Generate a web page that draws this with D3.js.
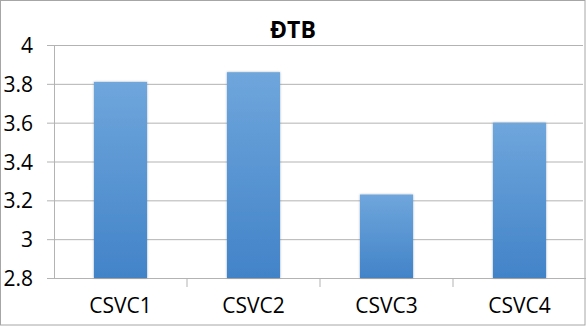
<!DOCTYPE html>
<html><head><meta charset="utf-8">
<script src="https://cdn.jsdelivr.net/npm/d3@7"></script>
<style>body{margin:0;background:#fff}svg{display:block}</style>
</head><body>
<svg id="c" width="586" height="326"></svg>
<script>
const title = "ĐTB";
const categories = ["CSVC1","CSVC2","CSVC3","CSVC4"];
const values = [3.81, 3.86, 3.23, 3.60];
const yTicks = [2.8, 3, 3.2, 3.4, 3.6, 3.8, 4];

const svg = d3.select("#c");
const m = {left:54, top:45};
const x = d3.scaleBand().domain(categories).range([m.left, 586]).paddingInner(0.6).paddingOuter(0.3);
const y = d3.scaleLinear().domain([2.8, 4]).range([278, 45]);

const defs = svg.append("defs");
const g = defs.append("linearGradient").attr("id","bg").attr("x1",0).attr("y1",0).attr("x2",0).attr("y2",1);
g.append("stop").attr("offset","0%").attr("stop-color","#6fa6dc");
g.append("stop").attr("offset","100%").attr("stop-color","#4283c8");
const f = defs.append("filter").attr("id","sh").attr("x","-20%").attr("y","-5%").attr("width","140%").attr("height","110%");
f.append("feDropShadow").attr("dx",0).attr("dy",0).attr("stdDeviation",1.2).attr("flood-color","#000").attr("flood-opacity",0.3);

svg.append("rect").attr("x",0.5).attr("y",0.5).attr("width",584.5).attr("height",324.5)
  .attr("fill","#fff").attr("stroke","#a6a6a6").attr("stroke-width",1);

const yAxis = d3.axisLeft(y).tickValues(yTicks).tickSize(7).tickSizeOuter(0)
  .tickFormat(d => d3.format("")(+d.toFixed(1)));
const ya = svg.append("g").attr("transform",`translate(${m.left},0)`).call(yAxis);
ya.select(".domain").attr("stroke","#b3b3b3");
ya.selectAll(".tick line").attr("stroke","#b3b3b3");
ya.selectAll(".tick text").attr("x",-21).attr("dy","0.36em").attr("font-family","Open Sans").attr("font-size","21px").attr("fill","#000");
ya.selectAll(".tick").append("line").attr("x1",0).attr("x2",583-m.left).attr("stroke","#b3b3b3");

const xAxis = d3.axisBottom(x).tickSize(0).tickSizeOuter(0);
const xa = svg.append("g").attr("transform","translate(0,278)").call(xAxis);
xa.select(".domain").attr("stroke","#b3b3b3");
xa.selectAll(".tick text").attr("y",20).attr("font-family","Open Sans").attr("font-size","21px").attr("fill","#000");
const step = x.step();
const bounds = categories.slice(1).map(c => x(c) - (step - x.bandwidth())/2);
xa.selectAll("line.bt2").data(bounds).join("line").attr("class","bt2")
  .attr("x1",d=>d).attr("x2",d=>d).attr("y1",0).attr("y2",9).attr("stroke","#b3b3b3");

svg.append("g").selectAll("rect").data(categories).join("rect")
  .attr("x",d=>x(d)).attr("width",x.bandwidth())
  .attr("y",(d,i)=>y(values[i])).attr("height",(d,i)=>y(2.8)-y(values[i]))
  .attr("fill","url(#bg)").attr("filter","url(#sh)");

svg.append("text").attr("x",293).attr("y",38).attr("text-anchor","middle")
  .attr("font-family","Open Sans").attr("font-weight","bold").attr("font-size","23px").text(title);
</script>
</body></html>
